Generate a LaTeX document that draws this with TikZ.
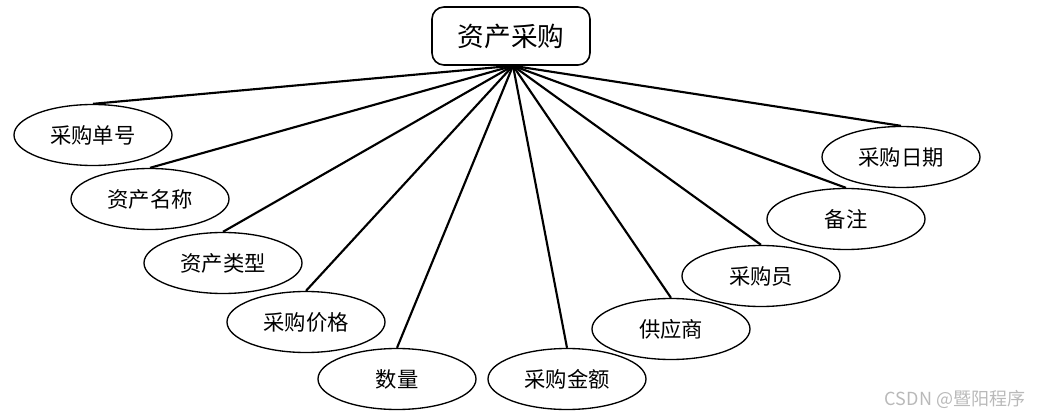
\documentclass[tikz,border=0pt]{standalone}
\usepackage{fontspec}
\setmainfont{Noto Sans CJK SC}
\usetikzlibrary{shapes.geometric}

\tikzset{every picture/.style={line width=0.75pt}}
\tikzset{
  topbox/.style={draw, rounded corners=9pt, minimum width=118.5pt, minimum height=43.5pt, inner sep=0pt, font=\fontsize{20}{24}\selectfont},
  attr/.style={draw, ellipse, line width=1pt, minimum width=118.5pt, minimum height=45.75pt, inner sep=0pt, font=\fontsize{16}{19}\selectfont},
  link/.style={line width=1.6pt}
}

\begin{document}
\begin{tikzpicture}[x=0.75pt,y=0.75pt,yscale=-1,xscale=1]
\useasboundingbox (0,0) rectangle (1039,417);

\node [topbox, line width=1.2pt] (caigou) at (511,36) {资产采购};

\node [attr] (danhao) at (93,135) {采购单号};
\node [attr] (mingcheng) at (150,199) {资产名称};
\node [attr] (leixing) at (223,263) {资产类型};
\node [attr] (jiage) at (306,322) {采购价格};
\node [attr] (shuliang) at (397,379) {数量};
\node [attr] (jine) at (567,379) {采购金额};
\node [attr] (gongying) at (671,329) {供应商};
\node [attr] (caigouyuan) at (761,276) {采购员};
\node [attr] (beizhu) at (846,219) {备注};
\node [attr] (riqi) at (901,157) {采购日期};

\coordinate (hub) at ([xshift=1.5pt]caigou.south);

\foreach \n in {danhao,mingcheng,leixing,jiage,shuliang,jine,gongying,caigouyuan,beizhu,riqi}
  \draw [link] (hub) -- (\n.north);

\node [color={rgb, 255:red, 185; green, 185; blue, 185 }, font=\fontsize{13.5}{16}\selectfont] (mark) at (955,399) {CSDN @暨阳程序};

\end{tikzpicture}
\end{document}
